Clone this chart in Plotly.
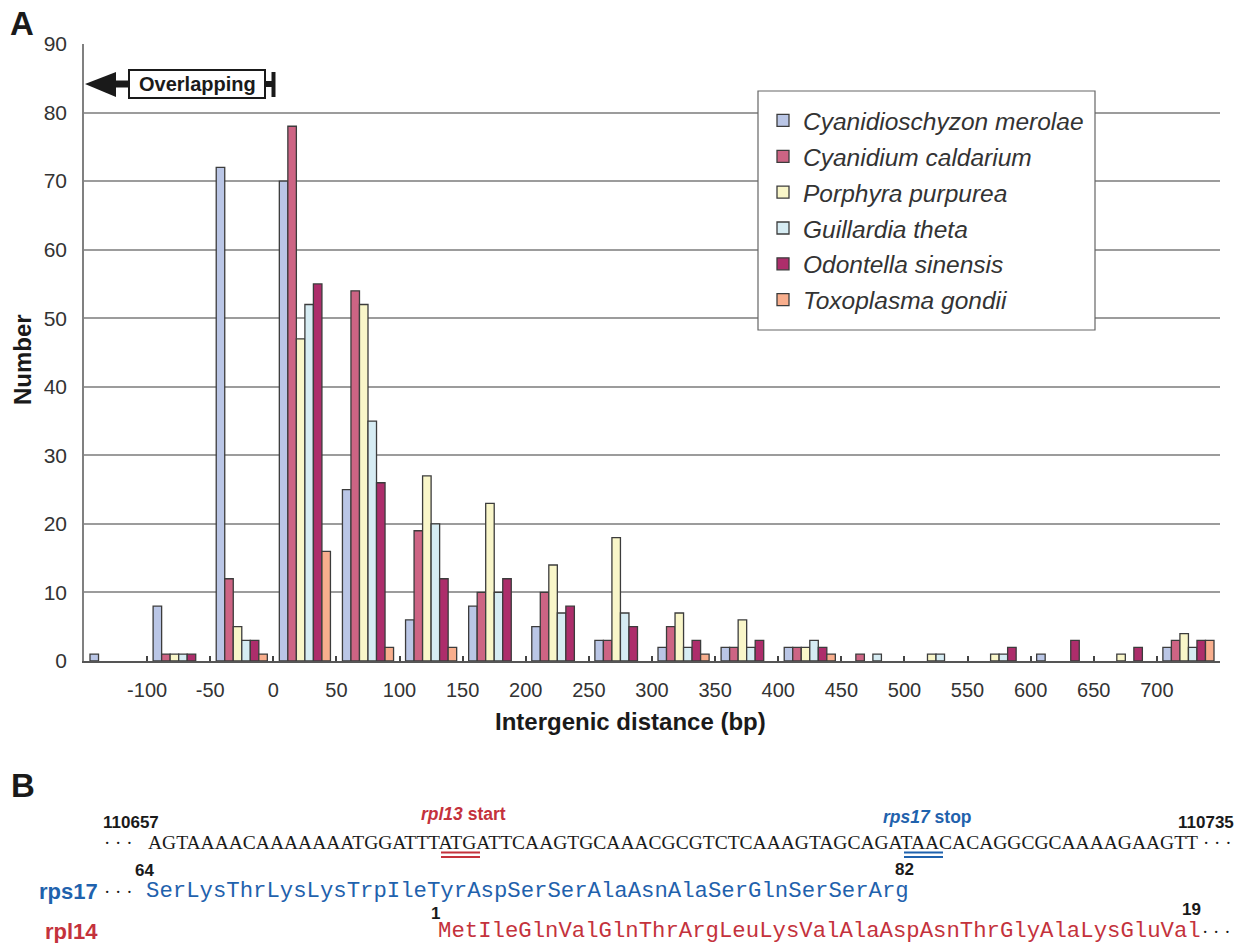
import plotly.graph_objects as go

# ---------------- data ----------------
bins = ["<-100", "-100..-50", "-50..0", "0..50", "50..100", "100..150", "150..200",
        "200..250", "250..300", "300..350", "350..400", "400..450", "450..500",
        "500..550", "550..600", "600..650", "650..700", ">=700"]
tick_labels = ["-100", "-50", "0", "50", "100", "150", "200", "250", "300", "350",
               "400", "450", "500", "550", "600", "650", "700"]

species = ["Cyanidioschyzon merolae", "Cyanidium caldarium", "Porphyra purpurea",
           "Guillardia theta", "Odontella sinensis", "Toxoplasma gondii"]
merolae   = [1, 8, 72, 70, 25, 6, 8, 5, 3, 2, 2, 2, 0, 0, 0, 1, 0, 2]
caldarium = [0, 1, 12, 78, 54, 19, 10, 10, 3, 5, 2, 2, 1, 0, 0, 0, 0, 3]
purpurea  = [0, 1, 5, 47, 52, 27, 23, 14, 18, 7, 6, 2, 0, 1, 1, 0, 1, 4]
theta     = [0, 1, 3, 52, 35, 20, 10, 7, 7, 2, 2, 3, 1, 1, 1, 0, 0, 2]
sinensis  = [0, 1, 3, 55, 26, 12, 12, 8, 5, 3, 3, 2, 0, 0, 2, 3, 2, 3]
gondii    = [0, 0, 1, 16, 2, 2, 0, 0, 0, 1, 0, 1, 0, 0, 0, 0, 0, 3]
series = [merolae, caldarium, purpurea, theta, sinensis, gondii]
colors = ["#bac6e6", "#cd6484", "#f9f6c9", "#d6ecf3", "#ad2d6b", "#f8ae8d"]

dna = "AGTAAAACAAAAAAATGGATTTATGATTCAAGTGCAAACGCGTCTCAAAGTAGCAGATAACACAGGCGCAAAAGAAGTT"
rps17_aa = "SerLysThrLysLysTrpIleTyrAspSerSerAlaAsnAlaSerGlnSerSerArg"
rpl14_aa = "MetIleGlnValGlnThrArgLeuLysValAlaAspAsnThrGlyAlaLysGluVal"

# ---------------- geometry helpers ----------------
W, H = 1238, 943
L, R, T, B = 84, 1220, 44, 661


def px(x):
    return (x - L) / (R - L)


def py(y):
    return (B - y) / (B - T)


RED = "#c4323c"
BLUE = "#1f62ad"
SANS = "Liberation Sans, Arial, sans-serif"
SERIF = "Liberation Serif, Times New Roman, serif"
MONO = "Liberation Mono, Courier New, monospace"

fig = go.Figure()
xpos = list(range(len(bins)))
for name, vals, col in zip(species, series, colors):
    fig.add_trace(go.Bar(
        x=xpos, y=[v if v else None for v in vals], name=name, legendgroup=name,
        marker=dict(color=col, line=dict(color="#3c3c3c", width=1.3)),
        hovertext=bins,
    ))

fig.update_layout(
    width=W, height=H,
    margin=dict(l=L, r=W - R, t=T, b=H - B),
    paper_bgcolor="white", plot_bgcolor="white",
    barmode="group", bargap=0.19, bargroupgap=0,
    font=dict(family=SANS, color="#333333"),
    showlegend=True,
    legend=dict(
        x=px(763), y=py(98), xanchor="left", yanchor="top",
        bgcolor="rgba(0,0,0,0)", borderwidth=0,
        font=dict(family=SANS, size=24.5, style="italic", color="#333333"),
        tracegroupgap=1, itemwidth=30,
    ),
)

fig.update_xaxes(
    range=[-0.5, len(bins) - 0.5],
    tickmode="array",
    tickvals=[i + 0.5 for i in range(len(tick_labels))],
    ticktext=tick_labels,
    ticks="inside", ticklen=5, tickwidth=1.5, tickcolor="#444444",
    tickfont=dict(family=SANS, size=20, color="#333333"),
    ticklabelstandoff=10,
    showline=True, linecolor="#555555", linewidth=1.5,
    showgrid=False, zeroline=False,
)
fig.update_yaxes(
    range=[0, 90], dtick=10,
    showgrid=True, gridcolor="#9c9c9c", gridwidth=1.5,
    showline=True, linecolor="#808080", linewidth=1.5,
    ticks="", tickfont=dict(family=SANS, size=21, color="#333333"),
    ticklabelstandoff=11,
    zeroline=False,
)

shapes = []
annotations = []

# legend box
shapes.append(dict(type="rect", xref="paper", yref="paper",
                   x0=px(758), x1=px(1095), y0=py(91), y1=py(330),
                   fillcolor="white", line=dict(color="#666666", width=1.2),
                   layer="above"))

# Overlapping marker
shapes.append(dict(type="path", xref="paper", yref="paper",
                   path=f"M {px(85)},{py(84)} L {px(116)},{py(72)} L {px(116)},{py(97)} Z",
                   fillcolor="#1a1a1a", line=dict(width=0), layer="above"))
shapes.append(dict(type="rect", xref="paper", yref="paper",
                   x0=px(115), x1=px(129), y0=py(80.5), y1=py(87.5),
                   fillcolor="#1a1a1a", line=dict(width=0), layer="above"))
shapes.append(dict(type="rect", xref="paper", yref="paper",
                   x0=px(129), x1=px(265), y0=py(70), y1=py(98),
                   fillcolor="white", line=dict(color="#1a1a1a", width=2), layer="above"))
shapes.append(dict(type="rect", xref="paper", yref="paper",
                   x0=px(265), x1=px(273), y0=py(81), y1=py(87),
                   fillcolor="#1a1a1a", line=dict(width=0), layer="above"))
shapes.append(dict(type="rect", xref="paper", yref="paper",
                   x0=px(271.5), x1=px(275.5), y0=py(72), y1=py(97),
                   fillcolor="#1a1a1a", line=dict(width=0), layer="above"))
annotations.append(dict(text="<b>Overlapping</b>", xref="paper", yref="paper",
                        x=px(197), y=py(84), xanchor="center", yanchor="middle",
                        showarrow=False, font=dict(family=SANS, size=20, color="#1a1a1a")))

# panel labels and axis titles
annotations.append(dict(text="<b>A</b>", xref="paper", yref="paper", x=px(8), y=py(23),
                        xanchor="left", yanchor="middle", showarrow=False,
                        font=dict(family=SANS, size=33, color="#1a1a1a")))
annotations.append(dict(text="<b>B</b>", xref="paper", yref="paper", x=px(9), y=py(785),
                        xanchor="left", yanchor="middle", showarrow=False,
                        font=dict(family=SANS, size=33, color="#1a1a1a")))
annotations.append(dict(text="<b>Number</b>", xref="paper", yref="paper", x=px(22), y=py(360),
                        xanchor="center", yanchor="middle", textangle=-90, showarrow=False,
                        font=dict(family=SANS, size=24, color="#1a1a1a")))
annotations.append(dict(text="<b>Intergenic distance (bp)</b>", xref="paper", yref="paper",
                        x=px(630), y=py(721), xanchor="center", yanchor="middle",
                        showarrow=False, font=dict(family=SANS, size=24, color="#1a1a1a")))


def note(text, x, y, size, color="#1a1a1a", family=SANS, xanchor="left"):
    annotations.append(dict(text=text, xref="paper", yref="paper", x=px(x), y=py(y),
                            xanchor=xanchor, yanchor="middle", showarrow=False,
                            font=dict(family=family, size=size, color=color)))


# Part B
note("<b>110657</b>", 101, 822, 17)
note("<b>110735</b>", 1176, 822, 17)
note("<b><i>rpl13</i> start</b>", 463, 814, 17.5, RED, xanchor="center")
note("<b><i>rps17</i> stop</b>", 927, 817, 17.5, BLUE, xanchor="center")
note("· · ·", 102, 842, 19, "#1a1a1a", SERIF)
note(dna, 146, 842, 19.5, "#1a1a1a", SERIF)
note("· · ·", 1201, 842, 19, "#1a1a1a", SERIF)

# double underlines
for (x0, x1, col) in [(441, 480, RED), (904, 943, BLUE)]:
    for yy in (852.5, 857):
        shapes.append(dict(type="line", xref="paper", yref="paper",
                           x0=px(x0), x1=px(x1), y0=py(yy), y1=py(yy),
                           line=dict(color=col, width=2)))

note("<b>64</b>", 133, 870, 17)
note("<b>82</b>", 893, 869, 17)
note("<b>1</b>", 429, 913, 17)
note("<b>19</b>", 1180, 910, 17)

note("<b>rps17</b>", 37, 891, 22, BLUE)
note("· · ·", 102, 891, 19, "#1a1a1a", SERIF)
note(rps17_aa, 144, 891, 22.3, BLUE, MONO)

note("<b>rpl14</b>", 43, 931, 22, RED)
note(rpl14_aa, 436, 931, 22.3, RED, MONO)
note("· · ·", 1200, 931, 19, "#1a1a1a", SERIF)

fig.update_layout(shapes=shapes, annotations=annotations)
fig.write_html(
    "out.html",
    config={"displayModeBar": False},
    post_script="document.body.style.margin='0';document.body.style.overflow='hidden';",
)
